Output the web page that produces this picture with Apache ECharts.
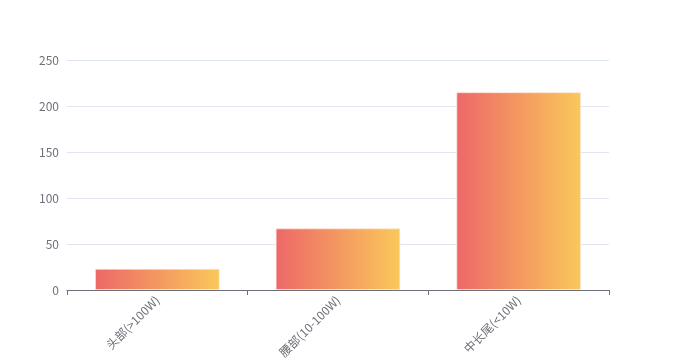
<!DOCTYPE html>
<html>
<head>
<meta charset="utf-8">
<script src="https://cdn.jsdelivr.net/npm/echarts@6/dist/echarts.min.js"></script>
<style>html,body{margin:0;padding:0;background:#fff;}#c{width:677px;height:360px;}</style>
</head>
<body>
<div id="c"></div>
<script>
const categories = ['头部(>100W)', '腰部(10-100W)', '中长尾(<10W)'];
const values = [23, 67, 215];
const yTicks = { min: 0, max: 250, interval: 50 };

const FONT = '"Noto Sans CJK SC", "Open Sans", sans-serif';
const chart = echarts.init(document.getElementById('c'));
chart.setOption({
  animation: false,
  textStyle: { fontFamily: FONT },
  grid: { left: 67, right: 68, top: 60, bottom: 70, containLabel: false, outerBoundsMode: 'none' },
  xAxis: {
    type: 'category',
    data: categories,
    axisLine: { lineStyle: { color: '#6e7079' } },
    axisTick: { show: true },
    axisLabel: { rotate: 45, color: '#6e7079', fontSize: 12, interval: 0, fontFamily: FONT }
  },
  yAxis: {
    type: 'value',
    min: yTicks.min, max: yTicks.max, interval: yTicks.interval,
    axisLine: { show: false },
    axisTick: { show: false },
    axisLabel: { color: '#6e7079', fontSize: 12, fontFamily: FONT },
    splitLine: { lineStyle: { color: '#e0e6f1' } }
  },
  series: [{
    type: 'bar',
    data: values,
    barWidth: '69%',
    itemStyle: {
      color: new echarts.graphic.LinearGradient(0, 0, 1, 0, [
        { offset: 0, color: '#ed6868' },
        { offset: 1, color: '#fac85a' }
      ]),
      borderColor: 'rgba(255,230,220,0.6)',
      borderWidth: 1
    }
  }]
});
</script>
</body>
</html>
